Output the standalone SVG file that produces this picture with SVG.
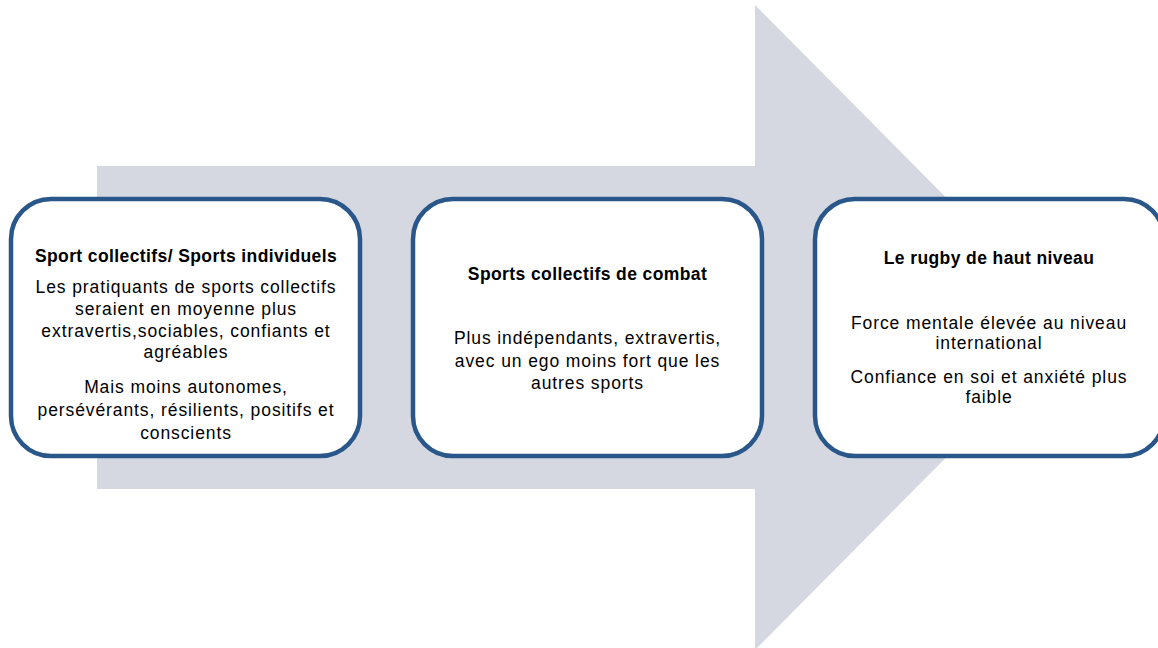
<svg xmlns="http://www.w3.org/2000/svg" width="1158" height="648" viewBox="0 0 1158 648">
<style>
.box{fill:#ffffff;stroke:#29578a;stroke-width:4.5}
.t{font-family:"Liberation Sans",Arial,sans-serif;font-size:17.5px;letter-spacing:0.9px;fill:#000;text-anchor:middle}
.b{font-weight:bold;letter-spacing:0.4px}
</style>
<rect width="1158" height="648" fill="#ffffff"/>
<g id="arrow">
<polygon points="97,166 755,166 755,5 1075,327.5 755,650 755,489 97,489" fill="#d5d8e0"/>
</g>
<g id="connectors"></g>
<g id="node1">
<rect class="box" x="11" y="199" width="349" height="257" rx="40" ry="40"/>
<text class="t b" x="186" y="262">Sport collectifs/ Sports individuels</text>
<text class="t" x="186" y="293">Les pratiquants de sports collectifs</text>
<text class="t" x="186" y="315">seraient en moyenne plus</text>
<text class="t" x="186" y="337">extravertis,sociables, confiants et</text>
<text class="t" x="186" y="358">agréables</text>
<text class="t" x="186" y="393">Mais moins autonomes,</text>
<text class="t" x="186" y="416">persévérants, résilients, positifs et</text>
<text class="t" x="186" y="439">conscients</text>
</g>
<g id="node2">
<rect class="box" x="413" y="199" width="349" height="257" rx="40" ry="40"/>
<text class="t b" x="587.5" y="280">Sports collectifs de combat</text>
<text class="t" x="587.5" y="344">Plus indépendants, extravertis,</text>
<text class="t" x="587.5" y="366.5">avec un ego moins fort que les</text>
<text class="t" x="587.5" y="389">autres sports</text>
</g>
<g id="node3">
<rect class="box" x="815" y="199" width="349" height="257" rx="40" ry="40"/>
<text class="t b" x="989" y="264">Le rugby de haut niveau</text>
<text class="t" x="989" y="329">Force mentale élevée au niveau</text>
<text class="t" x="989" y="349">international</text>
<text class="t" x="989" y="383">Confiance en soi et anxiété plus</text>
<text class="t" x="989" y="403">faible</text>
</g>
</svg>
